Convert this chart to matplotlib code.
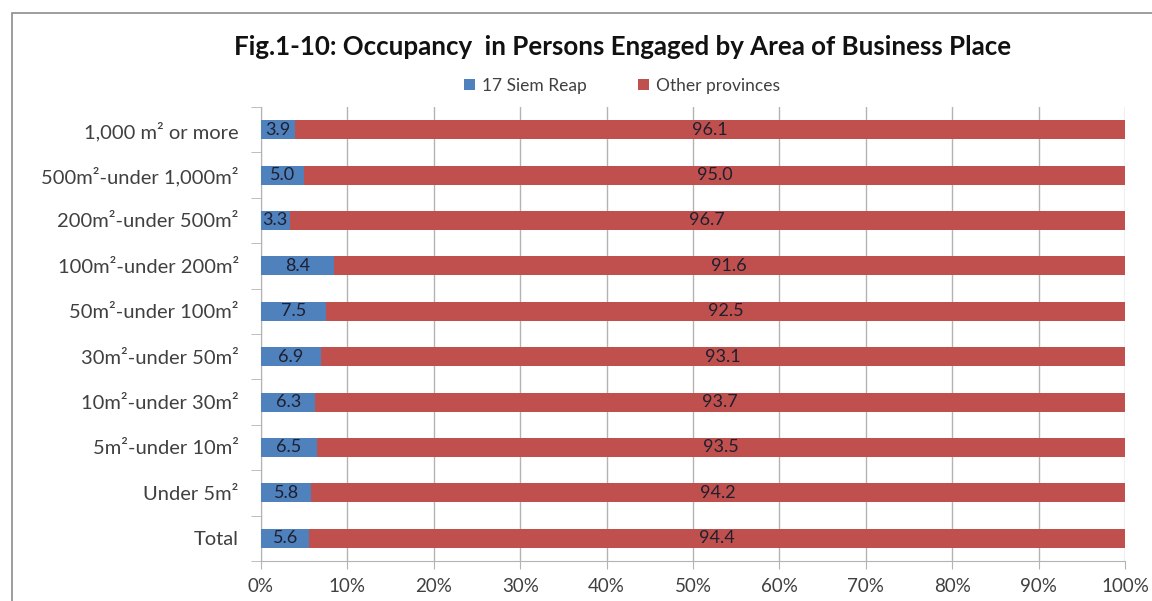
import matplotlib.pyplot as plt
from matplotlib.patches import Rectangle

plt.rcParams['font.family'] = ['Lato', 'DejaVu Sans']

# dati (dall'alto verso il basso come nel grafico)
categories = ['1,000 m² or more', '500m²-under 1,000m²', '200m²-under 500m²',
              '100m²-under 200m²', '50m²-under 100m²', '30m²-under 50m²',
              '10m²-under 30m²', '5m²-under 10m²', 'Under 5m²', 'Total']
siem_reap = [3.9, 5.0, 3.3, 8.4, 7.5, 6.9, 6.3, 6.5, 5.8, 5.6]
other_provinces = [96.1, 95.0, 96.7, 91.6, 92.5, 93.1, 93.7, 93.5, 94.2, 94.4]
x_ticks = [0, 10, 20, 30, 40, 50, 60, 70, 80, 90, 100]

BLUE = '#4F81BD'
RED = '#C0504D'
GRID = '#b3b3b3'
TEXT = '#404040'

fig = plt.figure(figsize=(11.52, 6.01), dpi=100)
ax = fig.add_axes([261 / 1152, 1 - 561 / 601, 864 / 1152, 454 / 601])

# cornice esterna del grafico
fig.patches.append(Rectangle((12 / 1152, -0.1), 1.2, 1 - 13 / 601 + 0.1,
                             transform=fig.transFigure, fill=False,
                             edgecolor='#8c8c8c', linewidth=1.2, zorder=0))

y = list(range(len(categories)))[::-1]
h = 0.42
ax.barh(y, siem_reap, height=h, color=BLUE, label='17 Siem Reap', zorder=3)
ax.barh(y, other_provinces, left=siem_reap, height=h, color=RED,
        label='Other provinces', zorder=3)

for yi, a, b in zip(y, siem_reap, other_provinces):
    ax.text(a / 2, yi, f'{a:.1f}', ha='center', va='center', fontsize=13,
            color='#1f1f2f', zorder=4)
    ax.text(a + b / 2, yi, f'{b:.1f}', ha='center', va='center', fontsize=13,
            color='#1f1f2f', zorder=4)

ax.set_xlim(0, 100)
ax.set_ylim(-0.5, len(categories) - 0.5)
ax.set_xticks(x_ticks)
ax.set_xticklabels([f'{t}%' for t in x_ticks], fontsize=13.5, color=TEXT)
ax.set_yticks(y)
ax.set_yticklabels(categories, fontsize=14.5, color=TEXT)
ax.set_yticks([i - 0.5 for i in range(len(categories) + 1)], minor=True)
ax.tick_params(axis='y', which='major', length=0, pad=16)
ax.tick_params(axis='y', which='minor', length=7, color=GRID, direction='out')
ax.tick_params(axis='x', length=6, color=GRID, pad=6)

ax.grid(axis='x', color=GRID, linewidth=1, zorder=0)
for s in ['top', 'right']:
    ax.spines[s].set_visible(False)
for s in ['left', 'bottom']:
    ax.spines[s].set_color(GRID)

fig.text(0.54, 1 - 47 / 601, 'Fig.1-10: Occupancy  in Persons Engaged by Area of Business Place',
         ha='center', va='center', fontsize=18.6, fontweight='bold', color='#111111')
fig.legend(loc='center', bbox_to_anchor=(0.54, 1 - 86 / 601), ncol=2, frameon=False,
           fontsize=12.5, handlelength=0.6, handleheight=0.6, columnspacing=3.0,
           handletextpad=0.4, labelcolor=TEXT)

plt.savefig('out.png', dpi=100)
plt.close()
